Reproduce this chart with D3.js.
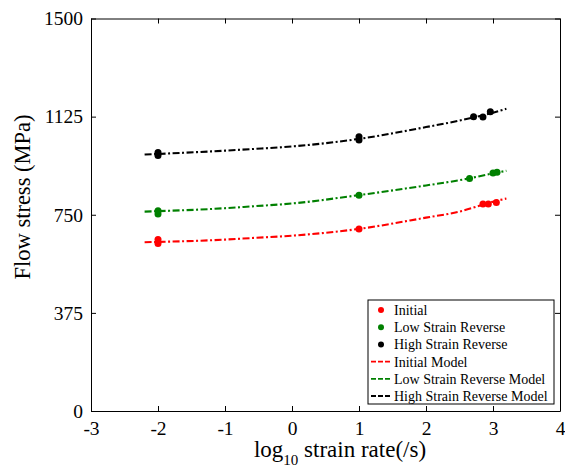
<!DOCTYPE html>
<html>
<head>
<meta charset="utf-8">
<script src="https://cdn.jsdelivr.net/npm/d3@7"></script>
<style>
  body { margin: 0; background: #fff; }
  svg text { font-family: 'Liberation Serif', 'Times New Roman', Times, serif !important; }
</style>
</head>
<body>
<svg id="chart" width="565" height="469" font-family="Liberation Serif"></svg>
<script>
// measured points
const initialX = [-2, -2, 1, 2.85, 2.93, 3.05];
const initialY = [640, 655, 696, 791, 791, 797];
const lowX = [-2, -2, 1, 2.65, 3.0, 3.06];
const lowY = [753, 765, 825, 889, 910, 912];
const highX = [-2, -2, 1, 1, 2.71, 2.85, 2.96];
const highY = [976, 988, 1036, 1048, 1125, 1124, 1144];

// model curves
const modelX = [-2.2, -1, -0.6, 0, 1, 2, 2.5, 3, 3.2];
const initialModel = [645, 655, 661, 670, 696, 739, 762, 800, 812];
const lowModel = [762, 775, 782, 793, 825, 862, 882, 908, 918];
const highModel = [980, 995, 1001, 1011, 1040, 1085, 1110, 1140, 1155];

const xTicks = [-3, -2, -1, 0, 1, 2, 3, 4];
const yTicks = [0, 375, 750, 1125, 1500];

const legendNames = ["Initial", "Low Strain Reverse", "High Strain Reverse",
  "Initial Model", "Low Strain Reverse Model", "High Strain Reverse Model"];

const svg = d3.select('#chart');
const plotLeft = 91, plotRight = 560, plotTop = 18.5, plotBottom = 411;
const serif = 'Liberation Serif';

const xScale = d3.scaleLinear().domain([-3, 4]).range([plotLeft, plotRight]);
const yScale = d3.scaleLinear().domain([0, 1500]).range([plotBottom, plotTop]);

// model lines
const models = [
  { ys: initialModel, color: "#ff0000" },
  { ys: lowModel, color: "#008000" },
  { ys: highModel, color: "#000000" }
];
const line = d3.line()
  .x(d => xScale(d[0]))
  .y(d => yScale(d[1]))
  .curve(d3.curveMonotoneX);

models.forEach(m => {
  svg.append('path')
    .attr('d', line(modelX.map((x, i) => [x, m.ys[i]])))
    .attr('fill', 'none')
    .attr('stroke', m.color)
    .attr('stroke-width', 2.1)
    .attr('stroke-dasharray', '7,2.5,2,2.5');
});

// points
const series = [
  { xs: initialX, ys: initialY, color: "#ff0000" },
  { xs: lowX, ys: lowY, color: "#008000" },
  { xs: highX, ys: highY, color: "#000000" }
];
series.forEach(s => {
  svg.append('g').selectAll('circle')
    .data(s.xs.map((x, i) => [x, s.ys[i]]))
    .join('circle')
    .attr('cx', d => xScale(d[0]))
    .attr('cy', d => yScale(d[1]))
    .attr('r', 3.5)
    .attr('fill', s.color);
});

// axes, ticks pointing inward, mirrored on top and right
const fmt = d => String(d);
const xAxis = d3.axisBottom(xScale).tickValues(xTicks).tickFormat(fmt).tickSizeInner(-5).tickSizeOuter(0).tickPadding(10);
const yAxis = d3.axisLeft(yScale).tickValues(yTicks).tickFormat(fmt).tickSizeInner(-5).tickSizeOuter(0).tickPadding(8);
const xTop = d3.axisTop(xScale).tickValues(xTicks).tickSizeInner(-5).tickSizeOuter(0).tickFormat('');
const yRight = d3.axisRight(yScale).tickValues(yTicks).tickSizeInner(-5).tickSizeOuter(0).tickFormat('');

const gx = svg.append('g').attr('transform', `translate(0, ${plotBottom})`).call(xAxis);
const gy = svg.append('g').attr('transform', `translate(${plotLeft}, 0)`).call(yAxis);
svg.append('g').attr('transform', `translate(0, ${plotTop})`).call(xTop);
svg.append('g').attr('transform', `translate(${plotRight}, 0)`).call(yRight);

svg.selectAll('g').attr('font-family', serif).attr('font-size', 19.5);
svg.selectAll('.domain, .tick line').attr('stroke', '#000').attr('stroke-width', 1);
svg.selectAll('.tick text').attr('fill', '#000');
gx.selectAll('.tick text').attr('dy', '0.71em');

// axis titles
const xt = svg.append('text')
  .attr('x', 340).attr('y', 457)
  .attr('text-anchor', 'middle')
  .attr('font-family', serif)
  .attr('font-size', 23)
  .attr('fill', '#000');
xt.append('tspan').text('log');
xt.append('tspan').attr('dy', 8).attr('font-size', 15).text('10');
xt.append('tspan').attr('dy', -8).text(' strain rate(/s)');

svg.append('text')
  .attr('transform', 'translate(30, 197) rotate(-90)')
  .attr('text-anchor', 'middle')
  .attr('font-family', serif)
  .attr('font-size', 22.5)
  .attr('fill', '#000')
  .text('Flow stress (MPa)');

// legend
const lg = svg.append('g').attr('transform', 'translate(368, 300)');
lg.append('rect')
  .attr('width', 186).attr('height', 104)
  .attr('fill', '#fff').attr('stroke', '#000').attr('stroke-width', 1);

const legendColors = ["#ff0000", "#008000", "#000000", "#ff0000", "#008000", "#000000"];
legendNames.forEach((name, i) => {
  const y = 10 + i * 17.2;
  if (i < 3) {
    lg.append('circle').attr('cx', 13).attr('cy', y).attr('r', 3).attr('fill', legendColors[i]);
  } else {
    lg.append('line')
      .attr('x1', 3).attr('x2', 24).attr('y1', y).attr('y2', y)
      .attr('stroke', legendColors[i]).attr('stroke-width', 1.8)
      .attr('stroke-dasharray', '5,2');
  }
  lg.append('text')
    .attr('x', 26).attr('y', y + 5)
    .attr('font-family', serif)
    .attr('font-size', 14)
    .attr('fill', '#000')
    .text(name);
});
</script>
</body>
</html>
